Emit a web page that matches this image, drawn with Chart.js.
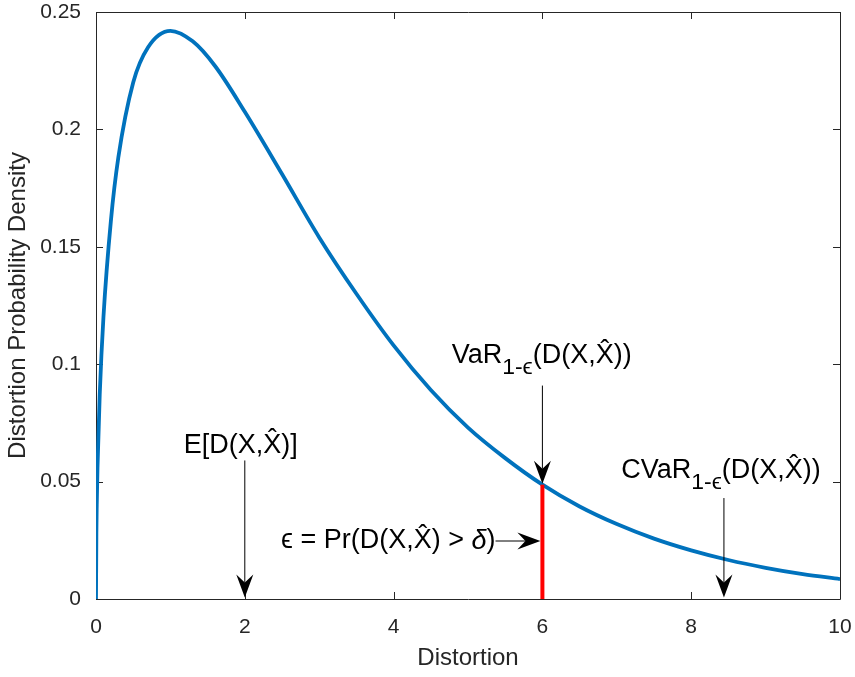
<!DOCTYPE html>
<html>
<head>
<meta charset="utf-8">
<script src="https://cdn.jsdelivr.net/npm/chart.js@4.4.0/dist/chart.umd.min.js"></script>
<style>
  html, body { margin: 0; padding: 0; background: #fff; }
  canvas { display: block; }
</style>
</head>
<body>
<canvas id="pdfChart" width="855" height="677"></canvas>
<script>
// values
const distortion = [0, 0.005, 0.01, 0.02, 0.05, 0.1, 0.2, 0.3, 0.5, 0.7, 1, 1.3, 1.6, 2, 2.5, 3, 3.5, 4, 4.5, 5, 5.5, 6, 6.5, 7, 7.5, 8, 8.5, 9, 9.5, 10];
const density = [0, 0.028, 0.040, 0.056, 0.087, 0.120, 0.161, 0.188, 0.220, 0.235, 0.242, 0.2375, 0.227, 0.2075, 0.181, 0.154, 0.130, 0.108, 0.089, 0.073, 0.060, 0.0487, 0.0394, 0.0319, 0.0257, 0.0207, 0.0166, 0.0133, 0.0106, 0.0085];

const xTicks = [0, 2, 4, 6, 8, 10];
const yTicks = [0, 0.05, 0.1, 0.15, 0.2, 0.25];
const yTickLabels = ["0", "0.05", "0.1", "0.15", "0.2", "0.25"];

const varX = 6;
const varY = 0.0487;
const meanX = 2;
const cvarX = 8.44;

const axisColor = "#262626";
const fontFamily = "'Liberation Sans', Arial, Helvetica, sans-serif";

// draw text made of pieces: {t, sub, it}
function drawRich(ctx, parts, x, y, size) {
  let cx = x;
  parts.forEach(p => {
    const fs = p.sub ? size * 0.85 : size;
    ctx.font = (p.it ? "italic " : "") + fs + "px " + fontFamily;
    ctx.fillText(p.t, cx, p.sub ? y + size * 0.42 : y);
    cx += ctx.measureText(p.t).width;
  });
  return cx - x;
}
function richWidth(ctx, parts, size) {
  let w = 0;
  parts.forEach(p => {
    const fs = p.sub ? size * 0.85 : size;
    ctx.font = (p.it ? "italic " : "") + fs + "px " + fontFamily;
    w += ctx.measureText(p.t).width;
  });
  return w;
}

function arrow(ctx, x1, y1, x2, y2) {
  const ang = Math.atan2(y2 - y1, x2 - x1);
  const len = 23, half = 8.5, notch = 15;
  ctx.strokeStyle = "#000";
  ctx.lineWidth = 1;
  ctx.beginPath();
  ctx.moveTo(x1, y1);
  ctx.lineTo(x2 - Math.cos(ang) * notch, y2 - Math.sin(ang) * notch);
  ctx.stroke();
  ctx.save();
  ctx.translate(x2, y2);
  ctx.rotate(ang);
  ctx.fillStyle = "#000";
  ctx.beginPath();
  ctx.moveTo(0, 0);
  ctx.lineTo(-len, -half);
  ctx.lineTo(-notch, 0);
  ctx.lineTo(-len, half);
  ctx.closePath();
  ctx.fill();
  ctx.restore();
}

const Xh = "X\u0302";
const dxx = "(D(X," + Xh + "))";

const annotations = {
  id: "annotations",
  afterDatasetsDraw(chart) {
    const { ctx, scales: { x, y } } = chart;
    const size = 27;
    ctx.save();
    ctx.fillStyle = "#000";
    ctx.textBaseline = "middle";
    ctx.textAlign = "left";

    // red bar under the curve at VaR
    ctx.strokeStyle = "#ff0000";
    ctx.lineWidth = 4;
    ctx.beginPath();
    ctx.moveTo(x.getPixelForValue(varX), y.getPixelForValue(0));
    ctx.lineTo(x.getPixelForValue(varX), y.getPixelForValue(varY));
    ctx.stroke();

    // E[D]
    const eParts = [{ t: "E[D(X," + Xh + ")]" }];
    let w = richWidth(ctx, eParts, size);
    drawRich(ctx, eParts, x.getPixelForValue(meanX) - w / 2 - 4, y.getPixelForValue(0.0655), size);
    arrow(ctx, x.getPixelForValue(meanX), y.getPixelForValue(0.059), x.getPixelForValue(meanX), y.getPixelForValue(0.0006));

    // VaR
    const varParts = [{ t: "VaR" }, { t: "1-", sub: true }, { t: "\u03F5", sub: true }, { t: dxx }];
    drawRich(ctx, varParts, x.getPixelForValue(4.78), y.getPixelForValue(0.1035), size);
    arrow(ctx, x.getPixelForValue(varX), y.getPixelForValue(0.0909), x.getPixelForValue(varX), y.getPixelForValue(varY + 0.0004));

    // CVaR
    const cvarParts = [{ t: "CVaR" }, { t: "1-", sub: true }, { t: "\u03F5", sub: true }, { t: dxx }];
    drawRich(ctx, cvarParts, x.getPixelForValue(7.06), y.getPixelForValue(0.0545), size);
    arrow(ctx, x.getPixelForValue(cvarX), y.getPixelForValue(0.043), x.getPixelForValue(cvarX), y.getPixelForValue(0.0006));

    // epsilon probability
    const eps = [{ t: "\u03F5" }, { t: " = Pr(D(X," + Xh + ") > " }, { t: "\u03B4", it: true }, { t: ")" }];
    w = richWidth(ctx, eps, 27);
    const endX = x.getPixelForValue(5.37);
    drawRich(ctx, eps, endX - w, y.getPixelForValue(0.0247), 27);
    arrow(ctx, endX, y.getPixelForValue(0.0247), x.getPixelForValue(varX) - 2, y.getPixelForValue(0.0247));

    ctx.restore();
  }
};

// MATLAB-like box with inward ticks
const boxTicks = {
  id: "boxTicks",
  beforeDatasetsDraw(chart) {
    const { ctx, chartArea: a, scales: { x, y } } = chart;
    ctx.save();
    ctx.strokeStyle = axisColor;
    ctx.lineWidth = 1;
    ctx.beginPath();
    ctx.rect(a.left + 0.5, a.top + 0.5, a.right - a.left, a.bottom - a.top);
    xTicks.forEach(v => {
      const px = Math.round(x.getPixelForValue(v)) + 0.5;
      ctx.moveTo(px, a.bottom); ctx.lineTo(px, a.bottom - 7);
      ctx.moveTo(px, a.top); ctx.lineTo(px, a.top + 7);
    });
    yTicks.forEach(v => {
      const py = Math.round(y.getPixelForValue(v)) + 0.5;
      ctx.moveTo(a.left, py); ctx.lineTo(a.left + 7, py);
      ctx.moveTo(a.right, py); ctx.lineTo(a.right - 7, py);
    });
    ctx.stroke();
    ctx.restore();
  }
};

const ctx = document.getElementById("pdfChart").getContext("2d");

new Chart(ctx, {
  type: "line",
  data: {
    datasets: [{
      data: distortion.map((d, i) => ({ x: d, y: density[i] })),
      borderColor: "#0072BD",
      borderWidth: 3.8,
      pointRadius: 0,
      fill: false,
      cubicInterpolationMode: "monotone"
    }]
  },
  options: {
    responsive: false,
    animation: false,
    devicePixelRatio: 1,
    layout: { padding: { left: 0, top: 12, right: 15, bottom: 0 } },
    plugins: {
      legend: { display: false },
      tooltip: { enabled: false }
    },
    scales: {
      x: {
        type: "linear",
        min: 0,
        max: 10,
        afterBuildTicks: s => { s.ticks = xTicks.map(v => ({ value: v })); },
        afterFit: s => { s.height = 78; s.paddingLeft = 0; s.paddingRight = 0; },
        grid: { display: false },
        border: { display: false },
        ticks: {
          color: axisColor,
          font: { family: fontFamily, size: 21 },
          padding: 8,
          maxRotation: 0,
          callback: v => String(v)
        },
        title: {
          display: true,
          text: "Distortion",
          color: axisColor,
          font: { family: fontFamily, size: 24 },
          padding: { top: 0 }
        }
      },
      y: {
        type: "linear",
        min: 0,
        max: 0.25,
        afterBuildTicks: s => { s.ticks = yTicks.map(v => ({ value: v })); },
        afterFit: s => { s.width = 96; s.paddingTop = 0; s.paddingBottom = 0; },
        grid: { display: false },
        border: { display: false },
        ticks: {
          color: axisColor,
          font: { family: fontFamily, size: 21 },
          padding: 7,
          callback: v => yTickLabels[yTicks.indexOf(v)]
        },
        title: {
          display: true,
          text: "Distortion Probability Density",
          color: axisColor,
          font: { family: fontFamily, size: 24 },
          padding: { top: 4, bottom: 0 }
        }
      }
    }
  },
  plugins: [boxTicks, annotations]
});
</script>
</body>
</html>
